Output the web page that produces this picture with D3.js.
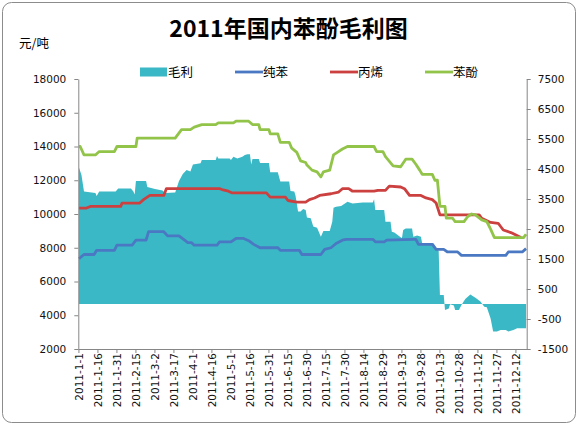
<!DOCTYPE html>
<html>
<head>
<meta charset="utf-8">
<script src="https://cdn.jsdelivr.net/npm/d3@7"></script>
<style>
  body { margin: 0; background: #fff; }
  svg { display: block; }
</style>
</head>
<body>
<div id="chart"></div>
<script>
// daily categories, 2011-1-1 .. 2011-12-20
const startDay = new Date(2011, 0, 1);
const endDay = new Date(2011, 11, 21);

const tickLabels = [
    "2011-1-1", "2011-1-16", "2011-1-31", "2011-2-15", "2011-3-2", "2011-3-17",
    "2011-4-1", "2011-4-16", "2011-5-1", "2011-5-16", "2011-5-31", "2011-6-15",
    "2011-6-30", "2011-7-15", "2011-7-30", "2011-8-14", "2011-8-29", "2011-9-13",
    "2011-9-28", "2011-10-13", "2011-10-28", "2011-11-12", "2011-11-27", "2011-12-12"
];

const leftTicks = [2000, 4000, 6000, 8000, 10000, 12000, 14000, 16000, 18000];
const rightTicks = [-1500, -500, 500, 1500, 2500, 3500, 4500, 5500, 6500, 7500];

const seriesNames = ["毛利", "纯苯", "丙烯", "苯酚"];

// [day index, value]; 毛利 is read on the right axis
const maoli = [
    [0, 4550], [2, 4300], [4, 3750], [13, 3700], [14, 3600], [16, 3750], [29, 3750],
    [31, 3850], [41, 3850], [43, 3750], [44, 3650], [45, 4100], [53, 4100], [54, 3900],
    [60, 3830], [66, 3780], [68, 3700], [76, 3720], [79, 4100], [82, 4330], [85, 4470],
    [88, 4420], [90, 4650], [96, 4690], [97, 4800], [108, 4800], [109, 4930], [110, 4850],
    [119, 4850], [120, 4800], [122, 4910], [125, 4850], [129, 4910], [131, 4970],
    [133, 4990], [135, 4990], [136, 4650], [137, 4830], [142, 4830], [143, 4700],
    [150, 4700], [151, 4390], [157, 4390], [159, 4080], [166, 4080], [167, 3770],
    [170, 3750], [171, 3610], [173, 3080], [175, 3080], [177, 3170], [179, 3130],
    [180, 2880], [183, 2860], [185, 2580], [188, 2540], [191, 2240], [193, 2430],
    [198, 2430], [200, 2740], [201, 3210], [203, 3240], [207, 3270], [210, 3350],
    [212, 3410], [216, 3350], [224, 3380], [232, 3380], [233, 3490], [234, 3130],
    [241, 3130], [242, 2740], [246, 2740], [247, 2410], [249, 2380], [255, 2190],
    [256, 2470], [258, 2520], [263, 2520], [264, 2240], [267, 2280], [270, 2240],
    [271, 2020], [280, 2020], [283, 1800], [284, 1780], [285, 300], [288, 300],
    [289, -200], [292, -150], [293, -10], [296, -50], [297, -200], [300, -200],
    [302, -30], [305, 170], [309, 320], [313, 210], [317, 80], [320, -90], [322, -110],
    [325, -480], [327, -920], [330, -920], [333, -870], [337, -870], [339, -920],
    [343, -870], [346, -810], [353, -810]
];

const chunben = [
    [0, 7350], [4, 7600], [12, 7600], [14, 7850], [28, 7850], [30, 8150], [42, 8150],
    [45, 8450], [53, 8450], [55, 8950], [67, 8950], [70, 8700], [79, 8700], [86, 8300],
    [89, 8300], [91, 8150], [109, 8150], [111, 8350], [120, 8350], [124, 8550],
    [130, 8550], [134, 8420], [138, 8200], [143, 8000], [157, 8000], [159, 7850],
    [174, 7850], [176, 7600], [191, 7600], [194, 7900], [199, 8000], [203, 8250],
    [208, 8450], [211, 8500], [232, 8500], [234, 8350], [241, 8350], [243, 8450],
    [264, 8500], [266, 8500], [268, 8200], [279, 8200], [282, 7900], [288, 7900],
    [291, 7750], [299, 7750], [302, 7550], [337, 7550], [339, 7750], [350, 7750],
    [353, 7950]
];

const bingxi = [
    [0, 10350], [6, 10350], [9, 10450], [33, 10450], [34, 10650], [48, 10650],
    [51, 10850], [56, 11100], [67, 11100], [69, 11500], [111, 11500], [113, 11450],
    [118, 11350], [121, 11250], [148, 11250], [151, 11000], [163, 11000], [165, 10800],
    [172, 10700], [179, 10700], [182, 10850], [186, 10950], [190, 11100], [199, 11200],
    [205, 11300], [208, 11500], [213, 11500], [216, 11350], [233, 11350], [236, 11400],
    [242, 11400], [245, 11650], [254, 11600], [257, 11500], [261, 11100], [270, 11100],
    [274, 10950], [279, 10850], [282, 10650], [285, 9950], [316, 9950], [318, 9750],
    [325, 9500], [331, 9450], [335, 9050], [341, 8900], [345, 8750], [349, 8600]
];

const benfen = [
    [0, 14000], [1, 14000], [4, 13500], [13, 13500], [16, 13700], [28, 13700],
    [30, 14000], [45, 14000], [46, 14500], [76, 14500], [81, 15000], [88, 15000],
    [91, 15150], [97, 15300], [108, 15300], [110, 15400], [122, 15400], [124, 15500],
    [134, 15500], [137, 15300], [142, 15300], [143, 15000], [150, 15000], [151, 14750],
    [157, 14750], [159, 14250], [166, 14250], [168, 13900], [172, 13650], [175, 13150],
    [179, 13050], [180, 12900], [184, 12600], [188, 12500], [191, 12200], [193, 12500],
    [198, 12600], [201, 13500], [204, 13650], [208, 13850], [212, 14000], [233, 14000],
    [235, 13700], [240, 13700], [242, 13400], [248, 12850], [254, 12800], [258, 13250],
    [263, 13250], [266, 12950], [269, 12600], [271, 12350], [279, 12350], [281, 12000],
    [283, 12000], [285, 10450], [289, 10450], [290, 9750], [295, 9750], [297, 9550],
    [304, 9550], [307, 9850], [310, 10000], [313, 9950], [318, 9650], [322, 9550],
    [325, 9100], [328, 8600], [351, 8600], [353, 8800]
];

const width = 578;
const height = 425;
const plot = { left: 78.3, right: 526.7, top: 79, bottom: 349 };
const colors = { area: "#3bb8c6", blue: "#4a78c2", red: "#cc4040", green: "#92c44a" };
const tickFont = '"DejaVu Sans", Verdana, sans-serif';
const cjkFont = '"Noto Sans CJK SC", "Noto Sans", sans-serif';

const fmt = d3.timeFormat("%Y-%-m-%-d");
const categories = d3.timeDay.range(startDay, endDay).map(fmt);

const svg = d3.select("#chart")
    .append("svg")
    .attr("width", width)
    .attr("height", height);

svg.append("rect")
    .attr("x", 2.5).attr("y", 2.5)
    .attr("width", width - 5).attr("height", height - 5)
    .attr("rx", 9).attr("ry", 9)
    .attr("fill", "#fff")
    .attr("stroke", "#8c8c8c");

const x = d3.scaleBand().domain(categories).range([plot.left, plot.right]);
const cx = i => x(categories[i]) + x.bandwidth() / 2;
const y = d3.scaleLinear().domain([2000, 18000]).range([plot.bottom, plot.top]);
const yR = d3.scaleLinear().domain([-1500, 7500]).range([plot.bottom, plot.top]);

// margin area
svg.append("path")
    .datum(maoli)
    .attr("fill", colors.area)
    .attr("d", d3.area()
        .x(d => cx(d[0]))
        .y0(yR(0))
        .y1(d => yR(d[1])));

const line = d3.line().x(d => cx(d[0])).y(d => y(d[1]));
[[chunben, colors.blue], [bingxi, colors.red], [benfen, colors.green]].forEach(([data, c]) => {
    svg.append("path")
        .datum(data)
        .attr("fill", "none")
        .attr("stroke", c)
        .attr("stroke-width", 2.8)
        .attr("stroke-linejoin", "round")
        .attr("d", line);
});

// axes
const axisColor = "#868686";
function styleAxis(g) {
    g.select(".domain").attr("stroke", axisColor);
    g.selectAll(".tick line").attr("stroke", axisColor);
    g.selectAll(".tick text")
        .attr("fill", "#111")
        .style("font-family", tickFont)
        .style("font-size", "10.5px");
}

svg.append("g")
    .attr("transform", `translate(${plot.left},0)`)
    .call(d3.axisLeft(y).tickValues(leftTicks).tickFormat(d3.format("d"))
        .tickSize(4).tickSizeOuter(0).tickPadding(8))
    .call(styleAxis);

svg.append("g")
    .attr("transform", `translate(${plot.right},0)`)
    .call(d3.axisRight(yR).tickValues(rightTicks).tickFormat(d => String(d))
        .tickSize(4).tickSizeOuter(0).tickPadding(7))
    .call(styleAxis);

svg.append("g")
    .attr("transform", `translate(0,${plot.bottom})`)
    .call(d3.axisBottom(x).tickValues(tickLabels).tickSize(4).tickSizeOuter(0))
    .call(styleAxis)
    .selectAll(".tick text")
    .attr("transform", "rotate(-90)")
    .attr("text-anchor", "end")
    .attr("x", -4)
    .attr("y", 0)
    .attr("dy", "0.36em");

// titles
svg.append("text")
    .attr("x", 288.5).attr("y", 37)
    .attr("text-anchor", "middle")
    .style("font-family", cjkFont)
    .style("font-weight", "bold")
    .style("font-size", "23px")
    .text("2011年国内苯酚毛利图");

svg.append("text")
    .attr("x", 19).attr("y", 48)
    .style("font-family", cjkFont)
    .style("font-size", "12.5px")
    .text("元/吨");

// legend
const legendColors = [colors.area, colors.blue, colors.red, colors.green];
const legend = svg.selectAll(".legend")
    .data(seriesNames)
    .enter()
    .append("g")
    .attr("class", "legend")
    .attr("transform", (d, i) => `translate(${140 + i * 95},72)`);

legend.each(function(d, i) {
    const g = d3.select(this);
    if (i === 0) {
        g.append("rect")
            .attr("x", 0).attr("y", -4.5)
            .attr("width", 27).attr("height", 9)
            .attr("fill", legendColors[i]);
    } else {
        g.append("line")
            .attr("x1", 0).attr("x2", 28)
            .attr("stroke", legendColors[i])
            .attr("stroke-width", 2.8);
    }
});

legend.append("text")
    .attr("x", 28)
    .attr("dy", "0.36em")
    .style("font-family", cjkFont)
    .style("font-size", "12.5px")
    .text(d => d);
</script>
</body>
</html>
